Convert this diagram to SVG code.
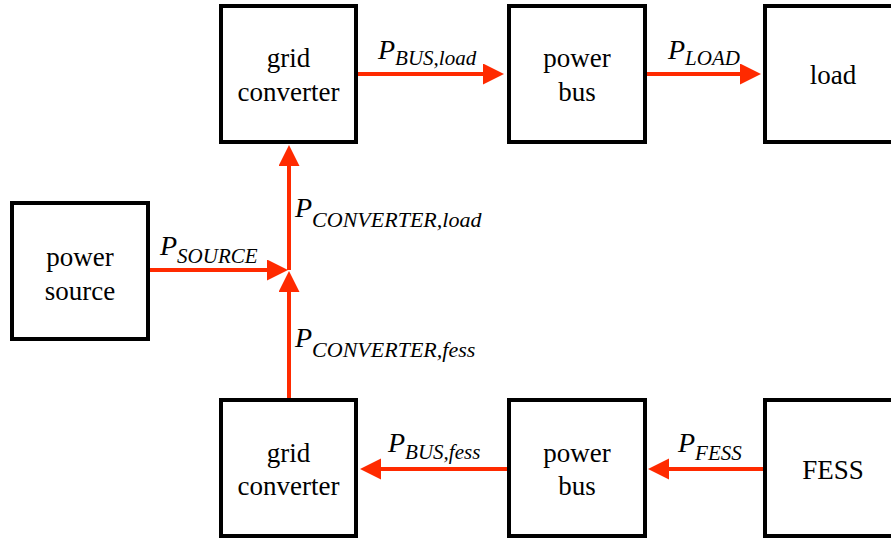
<svg xmlns="http://www.w3.org/2000/svg" width="891" height="540" viewBox="0 0 891 540" font-family="Liberation Serif">
  <style>
    .box { fill: #ffffff; stroke: #000000; stroke-width: 4; }
    .name { font-size: 27px; fill: #000000; text-anchor: middle; }
    .flow { stroke: #ff2a00; stroke-width: 4; fill: none; marker-end: url(#head); }
    .lbl { font-style: italic; fill: #000000; }
    .p { font-size: 28px; }
    .sub { font-size: 21px; }
    .sub-wide { font-size: 22px; }
  </style>
  <defs>
    <marker id="head" markerUnits="userSpaceOnUse" markerWidth="22" markerHeight="22" refX="1" refY="10.5" orient="auto">
      <path d="M0,0 L21,10.5 L0,21 Z" fill="#ff2a00"/>
    </marker>
  </defs>
  <rect width="891" height="540" fill="#ffffff"/>

  <!-- power flows -->
  <g id="connectors">
    <line class="flow" x1="358" y1="74" x2="484" y2="74"/>
    <line class="flow" x1="647" y1="74" x2="741" y2="74"/>
    <line class="flow" x1="150" y1="270" x2="268" y2="270"/>
    <line class="flow" x1="289" y1="270" x2="289" y2="165"/>
    <line class="flow" x1="289" y1="398" x2="289" y2="291"/>
    <line class="flow" x1="507" y1="469" x2="380" y2="469"/>
    <line class="flow" x1="763" y1="469" x2="668" y2="469"/>

    <text class="lbl" font-family="Liberation Serif" x="378" y="59"><tspan class="p">P</tspan><tspan class="sub" dy="6">BUS,load</tspan></text>
    <text class="lbl" font-family="Liberation Serif" x="668" y="59"><tspan class="p">P</tspan><tspan class="sub" dy="6" font-size="20">LOAD</tspan></text>
    <text class="lbl" font-family="Liberation Serif" x="160" y="255"><tspan class="p">P</tspan><tspan class="sub" dy="8">SOURCE</tspan></text>
    <text class="lbl" font-family="Liberation Serif" x="295" y="217"><tspan class="p">P</tspan><tspan class="sub-wide" dy="10">CONVERTER,load</tspan></text>
    <text class="lbl" font-family="Liberation Serif" x="295" y="347"><tspan class="p">P</tspan><tspan class="sub-wide" dy="10">CONVERTER,fess</tspan></text>
    <text class="lbl" font-family="Liberation Serif" x="388" y="452"><tspan class="p">P</tspan><tspan class="sub" dy="7">BUS,fess</tspan></text>
    <text class="lbl" font-family="Liberation Serif" x="678" y="452"><tspan class="p">P</tspan><tspan class="sub" dy="8">FESS</tspan></text>
  </g>

  <g id="grid-converter-top" font-family="Liberation Serif">
    <rect class="box" x="221" y="6" width="135" height="136"/>
    <text class="name" x="288.5" y="67">grid</text>
    <text class="name" x="288.5" y="101">converter</text>
  </g>
  <g id="power-bus-top" font-family="Liberation Serif">
    <rect class="box" x="509" y="6" width="136" height="136"/>
    <text class="name" x="577" y="67">power</text>
    <text class="name" x="577" y="101">bus</text>
  </g>
  <g id="load" font-family="Liberation Serif">
    <rect class="box" x="765" y="6" width="136" height="136"/>
    <text class="name" x="833" y="84">load</text>
  </g>
  <g id="power-source" font-family="Liberation Serif">
    <rect class="box" x="12" y="203" width="136" height="136"/>
    <text class="name" x="80" y="266">power</text>
    <text class="name" x="80" y="300">source</text>
  </g>
  <g id="grid-converter-bottom" font-family="Liberation Serif">
    <rect class="box" x="221" y="400" width="135" height="136"/>
    <text class="name" x="288.5" y="462">grid</text>
    <text class="name" x="288.5" y="495">converter</text>
  </g>
  <g id="power-bus-bottom" font-family="Liberation Serif">
    <rect class="box" x="509" y="400" width="136" height="136"/>
    <text class="name" x="577" y="462">power</text>
    <text class="name" x="577" y="495">bus</text>
  </g>
  <g id="fess" font-family="Liberation Serif">
    <rect class="box" x="765" y="400" width="136" height="136"/>
    <text class="name" x="833" y="479">FESS</text>
  </g>
</svg>
